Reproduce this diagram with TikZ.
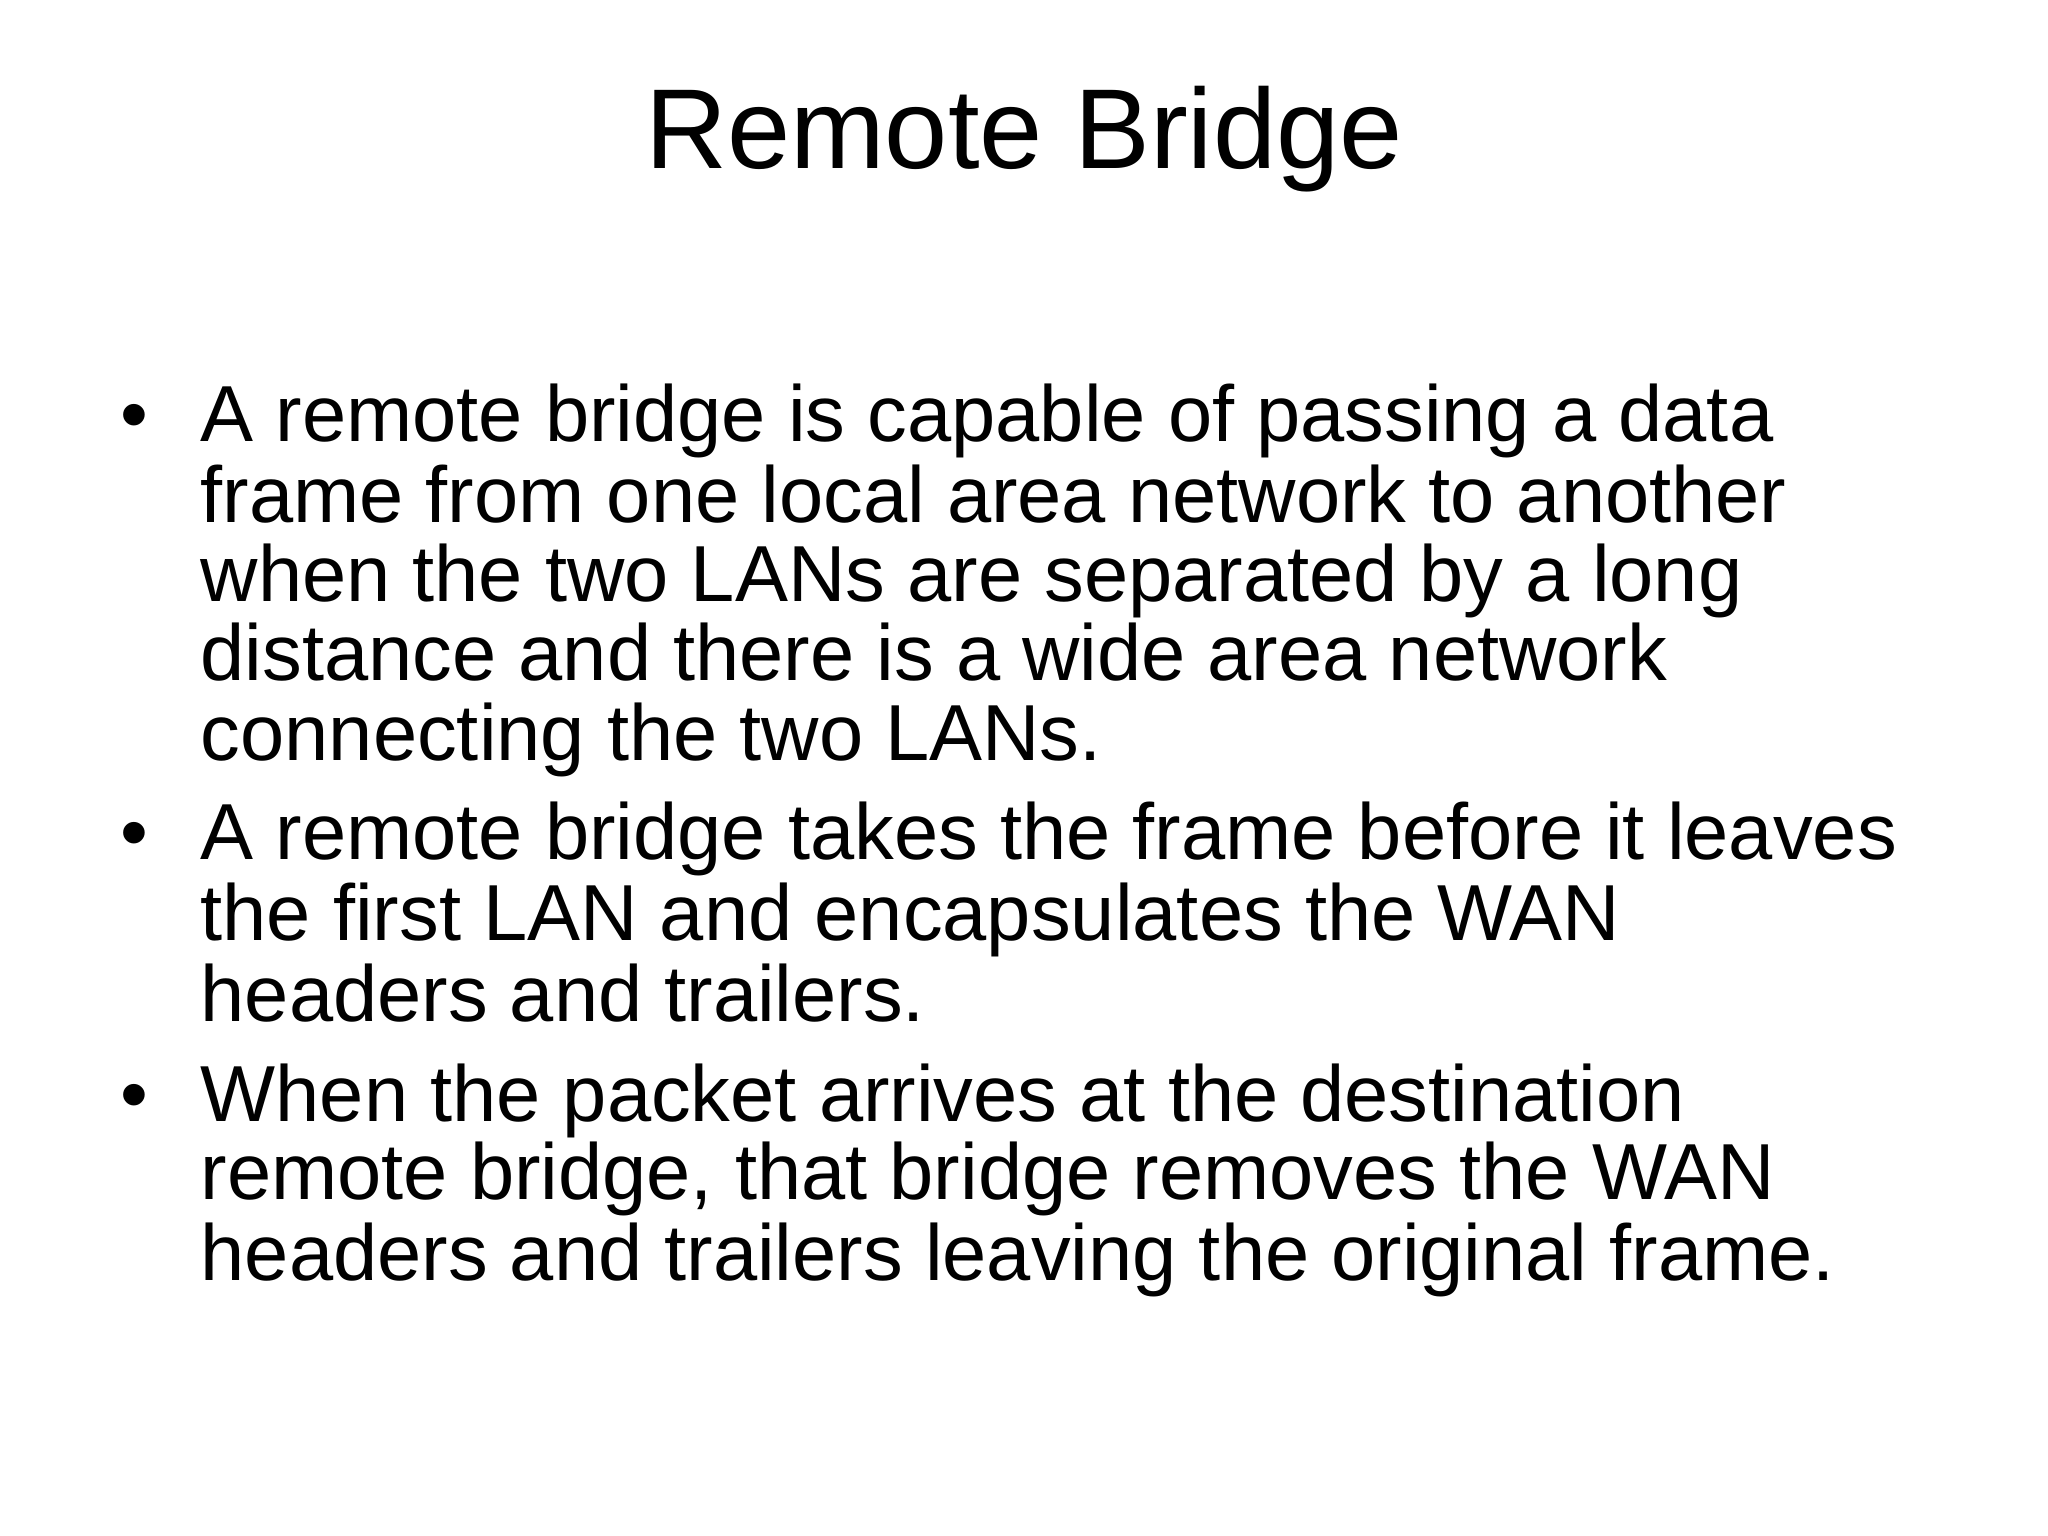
\documentclass[tikz,border=0pt]{standalone}
\usepackage{fontspec}
\setmainfont{Liberation Sans}
\begin{document}
\begin{tikzpicture}[x=0.01cm,y=-0.01cm,
  ln/.style={anchor=base west,inner sep=0pt,font=\fontsize{22.6pt}{24pt}\selectfont},
  bl/.style={anchor=base,inner sep=0pt,font=\fontsize{22.6pt}{24pt}\selectfont}]
\useasboundingbox[fill=white] (0,0) rectangle (2048,1536);
\node[anchor=base,inner sep=0pt,font=\fontsize{32.3pt}{36pt}\selectfont] (title) at (1024,168) {Remote Bridge};
\node[bl] (b1) at (134,441) {•};
\node[ln] (l1) at (200,441) {A remote bridge is capable of passing a data};
\node[ln] (l2) at (200,522) {frame from one local area network to another};
\node[ln] (l3) at (200,601) {when the two LANs are separated by a long};
\node[ln] (l4) at (200,680) {distance and there is a wide area network};
\node[ln] (l5) at (200,760) {connecting the two LANs.};
\node[bl] (b2) at (134,859) {•};
\node[ln] (l6) at (200,859) {A remote bridge takes the frame before it leaves};
\node[ln] (l7) at (200,940) {the first LAN and encapsulates the WAN};
\node[ln] (l8) at (200,1021) {headers and trailers.};
\node[bl] (b3) at (134,1121) {•};
\node[ln] (l9) at (200,1121) {When the packet arrives at the destination};
\node[ln] (l10) at (200,1199) {remote bridge, that bridge removes the WAN};
\node[ln] (l11) at (200,1280) {headers and trailers leaving the original frame.};
\end{tikzpicture}
\end{document}
